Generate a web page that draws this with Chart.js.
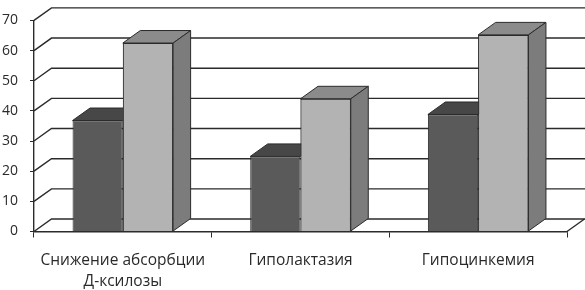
<!DOCTYPE html>
<html>
<head>
<meta charset="utf-8">
<script src="https://cdn.jsdelivr.net/npm/chart.js@4.4.1/dist/chart.umd.min.js"></script>
<style>
  html, body { margin: 0; padding: 0; background: #fff; }
  #wrap { width: 585px; height: 290px; }
</style>
</head>
<body>
<div id="wrap"><canvas id="chart" width="585" height="290"></canvas></div>
<script>
// data
const categories = [["Снижение абсорбции", "Д-ксилозы"], "Гиполактазия", "Гипоцинкемия"];
const seriesDark = [36.8, 24.9, 38.8];
const seriesLight = [62.5, 44.0, 65.2];
const yTicks = [0, 10, 20, 30, 40, 50, 60, 70];

// 3D depth offset of the wall / bars
const DX = 17.5, DY = 12.5;
const lineCol = "#2b2b2b";

const fillPoly = (ctx, pts, fill) => {
  ctx.beginPath();
  ctx.moveTo(pts[0][0], pts[0][1]);
  pts.slice(1).forEach(p => ctx.lineTo(p[0], p[1]));
  ctx.closePath();
  ctx.fillStyle = fill;
  ctx.fill();
  ctx.strokeStyle = lineCol;
  ctx.lineWidth = 1;
  ctx.stroke();
};

// back wall gridlines + floor
const wall = {
  id: "wall",
  beforeDatasetsDraw(chart) {
    const { ctx, chartArea: a, scales: { y } } = chart;
    ctx.save();
    ctx.strokeStyle = lineCol;
    ctx.lineWidth = 1.4;
    yTicks.forEach(v => {
      const py = y.getPixelForValue(v);
      ctx.beginPath();
      ctx.moveTo(a.left, py);
      ctx.lineTo(a.left + DX, py - DY);
      ctx.lineTo(chart.width, py - DY);
      ctx.stroke();
    });
    // right edge of the floor
    ctx.beginPath();
    ctx.moveTo(a.right, a.bottom);
    ctx.lineTo(a.right + DX, a.bottom - DY);
    ctx.stroke();
    ctx.restore();
  }
};

// top and side faces of the columns
const columns = {
  id: "columns",
  afterDatasetsDraw(chart) {
    const { ctx } = chart;
    const dark = chart.getDatasetMeta(0).data;
    const light = chart.getDatasetMeta(1).data;
    ctx.save();
    categories.forEach((_, i) => {
      const d = dark[i], l = light[i];
      const dl = d.x - d.width / 2, dr = d.x + d.width / 2;
      fillPoly(ctx, [[dl, d.y], [dr, d.y], [dr + DX, d.y - DY], [dl + DX, d.y - DY]], "#474747");
      l.draw(ctx);
      const ll = l.x - l.width / 2, lr = l.x + l.width / 2;
      fillPoly(ctx, [[ll, l.y], [lr, l.y], [lr + DX, l.y - DY], [ll + DX, l.y - DY]], "#8b8b8b");
      fillPoly(ctx, [[lr, l.y], [lr + DX, l.y - DY], [lr + DX, l.base - DY], [lr, l.base]], "#7c7c7c");
    });
    ctx.restore();
  }
};

new Chart(document.getElementById("chart"), {
  type: "bar",
  data: {
    labels: categories,
    datasets: [
      { label: "1", data: seriesDark, backgroundColor: "#5a5a5a", borderColor: lineCol, borderWidth: 1 },
      { label: "2", data: seriesLight, backgroundColor: "#b3b3b3", borderColor: lineCol, borderWidth: 1 }
    ]
  },
  options: {
    responsive: false,
    animation: false,
    layout: { padding: { top: 13, right: 18, left: 0, bottom: 0 } },
    datasets: { bar: { categoryPercentage: 0.566, barPercentage: 1.0 } },
    plugins: { legend: { display: false }, tooltip: { enabled: false } },
    scales: {
      x: {
        afterFit: s => { s.height = 58.5; },
        grid: { drawOnChartArea: false, drawTicks: true, tickLength: 6, color: lineCol, offset: true },
        border: { display: true, color: lineCol, width: 1.4 },
        ticks: { color: "#2a2a2a", padding: 13, font: { family: "Open Sans", size: 15.5, lineHeight: 1.32 }, maxRotation: 0, autoSkip: false }
      },
      y: {
        min: 0, max: 70,
        afterFit: s => { s.width = 34; },
        afterBuildTicks: s => { s.ticks = yTicks.map(v => ({ value: v })); },
        grid: { drawOnChartArea: false, drawTicks: true, tickLength: 4, color: lineCol },
        border: { display: true, color: lineCol, width: 1.4 },
        ticks: { color: "#2a2a2a", padding: 12, font: { family: "Open Sans", size: 14 } }
      }
    }
  },
  plugins: [wall, columns]
});
</script>
</body>
</html>
